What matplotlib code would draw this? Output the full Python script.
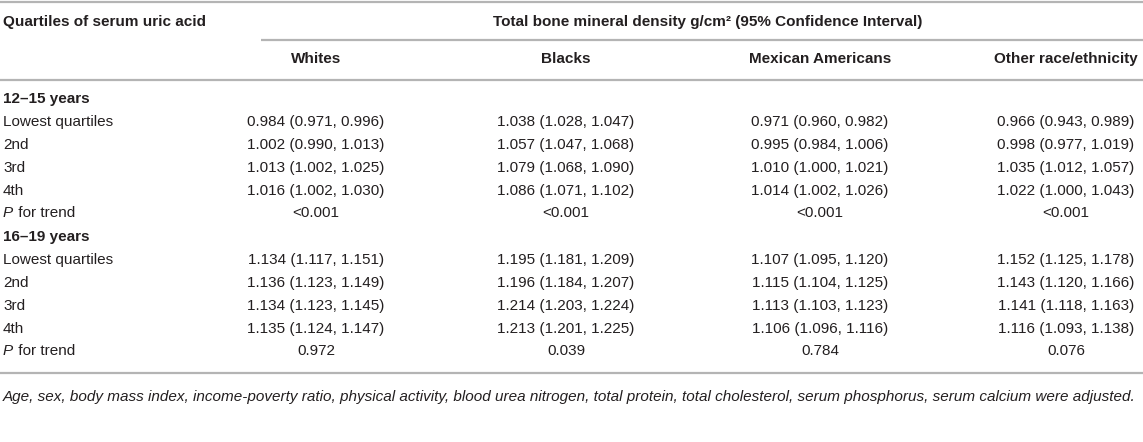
import matplotlib
matplotlib.use("Agg")
import matplotlib.pyplot as plt

plt.rcParams['font.family'] = ['Liberation Sans', 'DejaVu Sans']

# table content
races = ["Whites", "Blacks", "Mexican Americans", "Other race/ethnicity"]
age_groups = ["12–15 years", "16–19 years"]
quartiles = ["Lowest quartiles", "2nd", "3rd", "4th"]

# estimate, lower, upper  -> [race][quartile]
bmd_12_15 = [
    [(0.984, 0.971, 0.996), (1.002, 0.990, 1.013), (1.013, 1.002, 1.025), (1.016, 1.002, 1.030)],
    [(1.038, 1.028, 1.047), (1.057, 1.047, 1.068), (1.079, 1.068, 1.090), (1.086, 1.071, 1.102)],
    [(0.971, 0.960, 0.982), (0.995, 0.984, 1.006), (1.010, 1.000, 1.021), (1.014, 1.002, 1.026)],
    [(0.966, 0.943, 0.989), (0.998, 0.977, 1.019), (1.035, 1.012, 1.057), (1.022, 1.000, 1.043)],
]
bmd_16_19 = [
    [(1.134, 1.117, 1.151), (1.136, 1.123, 1.149), (1.134, 1.123, 1.145), (1.135, 1.124, 1.147)],
    [(1.195, 1.181, 1.209), (1.196, 1.184, 1.207), (1.214, 1.203, 1.224), (1.213, 1.201, 1.225)],
    [(1.107, 1.095, 1.120), (1.115, 1.104, 1.125), (1.113, 1.103, 1.123), (1.106, 1.096, 1.116)],
    [(1.152, 1.125, 1.178), (1.143, 1.120, 1.166), (1.141, 1.118, 1.163), (1.116, 1.093, 1.138)],
]
p_trend_12_15 = ["<0.001", "<0.001", "<0.001", "<0.001"]
p_trend_16_19 = ["0.972", "0.039", "0.784", "0.076"]

footnote = ("Age, sex, body mass index, income-poverty ratio, physical activity, blood urea nitrogen, "
            "total protein, total cholesterol, serum phosphorus, serum calcium were adjusted.")

W, H = 1143, 442
fig = plt.figure(figsize=(W / 100, H / 100), dpi=100)
ax = fig.add_axes([0, 0, 1, 1])
ax.set_xlim(0, W)
ax.set_ylim(H, 0)
ax.axis("off")

txt = "#231f20"
line_c = "#b4b4b4"
fs = 11
col_x = [316, 566, 820, 1066]
left = 3

def hline(y, x0=0, x1=W):
    ax.plot([x0, x1], [y, y], color=line_c, lw=1.6, solid_capstyle="butt")

# header
hline(2)
ax.text(left, 22, "Quartiles of serum uric acid", fontsize=fs, fontweight="bold",
        color=txt, va="center")
ax.text(708, 22, "Total bone mineral density g/cm² (95% Confidence Interval)",
        fontsize=fs, fontweight="bold", color=txt, va="center", ha="center")
hline(40, 261, W)
for x, r in zip(col_x, races):
    ax.text(x, 59, r, fontsize=fs, fontweight="bold", color=txt, va="center", ha="center")
hline(80)

def block(y0, title, data, pvals):
    ax.text(left, y0, title, fontsize=fs, fontweight="bold", color=txt, va="center")
    for i, q in enumerate(quartiles):
        y = y0 + 23 * (i + 1)
        ax.text(left, y, q, fontsize=fs, color=txt, va="center")
        for x, race_vals in zip(col_x, data):
            est, lo, hi = race_vals[i]
            ax.text(x, y, f"{est:.3f} ({lo:.3f}, {hi:.3f})", fontsize=fs,
                    color=txt, va="center", ha="center")
    y = y0 + 23 * 5 - 1
    ax.text(left, y, "P", fontsize=fs, fontstyle="italic", color=txt, va="center")
    ax.text(left + 10.5, y, " for trend", fontsize=fs, color=txt, va="center")
    for x, p in zip(col_x, pvals):
        ax.text(x, y, p, fontsize=fs, color=txt, va="center", ha="center")

block(99, age_groups[0], bmd_12_15, p_trend_12_15)
block(237, age_groups[1], bmd_16_19, p_trend_16_19)

hline(373)
ax.text(left, 397, footnote, fontsize=fs, fontstyle="italic", color=txt, va="center")

fig.savefig("out.png", dpi=100, facecolor="white")
